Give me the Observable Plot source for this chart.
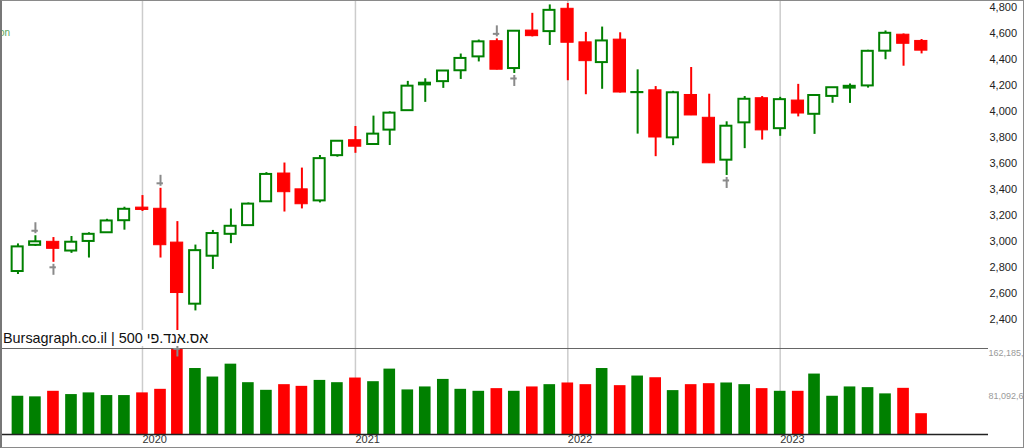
<!DOCTYPE html>
<html>
<head>
<meta charset="utf-8">
<script src="https://cdn.jsdelivr.net/npm/d3@7"></script>
<script src="https://cdn.jsdelivr.net/npm/@observablehq/plot@0.6"></script>
<style>
  html, body { margin: 0; padding: 0; background: #fff; }
  #wrap { position: relative; width: 1024px; height: 448px; overflow: hidden; background: #fff; font-family: "Liberation Sans", Arial, sans-serif; }
  #price, #volume { position: absolute; left: 0; }
  #price { top: 0; z-index: 2; }
  #volume { top: 348px; z-index: 1; }
  #label { position: absolute; left: 2px; top: 330px; height: 16px; line-height: 16px; font-size: 14.4px; background: #fff; color: #111; padding: 0 1px; z-index: 3; white-space: nowrap; }
  #legend { position: absolute; left: -1px; top: 27px; font-size: 10px; color: #5aa55a; z-index: 3; }
  #border { position: absolute; left: 0; top: 0; width: 1024px; height: 448px; box-sizing: border-box; border: 1px solid #8a8a8a; border-left: 2px solid #777; z-index: 4; pointer-events: none; }
</style>
</head>
<body>
<div id="wrap">
  <div id="price"></div>
  <div id="volume"></div>
  <div id="label">Bursagraph.co.il | 500 אס.אנד.פי</div>
  <div id="legend">on</div>
  <div id="border"></div>
</div>
<script>
// ---- data (monthly candles) ----
const months = [
  "2019-06","2019-07","2019-08","2019-09","2019-10","2019-11","2019-12",
  "2020-01","2020-02","2020-03","2020-04","2020-05","2020-06","2020-07","2020-08","2020-09","2020-10","2020-11","2020-12",
  "2021-01","2021-02","2021-03","2021-04","2021-05","2021-06","2021-07","2021-08","2021-09","2021-10","2021-11","2021-12",
  "2022-01","2022-02","2022-03","2022-04","2022-05","2022-06","2022-07","2022-08","2022-09","2022-10","2022-11","2022-12",
  "2023-01","2023-02","2023-03","2023-04","2023-05","2023-06","2023-07","2023-08","2023-09"
];
const open = [
  2751,2953,2980,2909,2983,3050,3143,
  3244,3235,2974,2499,2869,3038,3105,3289,3507,3385,3296,3645,
  3764,3731,3842,3992,4191,4216,4300,4407,4528,4317,4610,4602,
  4778,4519,4363,4540,4131,4149,3782,4113,3937,3610,3898,4088,
  3853,4070,3964,4102,4166,4183,4451,4578,4530
];
const high = [
  2964,3027,3013,3021,3050,3154,3247,
  3337,3393,3136,2955,3068,3233,3280,3514,3588,3549,3646,3760,
  3870,3950,3983,4218,4238,4302,4429,4537,4546,4608,4743,4808,
  4819,4596,4637,4593,4307,4178,4141,4325,4119,3906,4101,4101,
  4095,4195,4110,4170,4198,4458,4607,4584,4541
];
const low = [
  2728,2944,2822,2891,2855,3050,3070,
  3214,2855,2192,2447,2767,2966,3101,3284,3210,3234,3280,3633,
  3663,3725,3723,3992,4056,4164,4233,4368,4306,4279,4561,4495,
  4223,4115,4157,4128,3811,3637,3722,3954,3585,3492,3699,3765,
  3794,3944,3809,4049,4048,4166,4385,4335,4430
];
const close = [
  2941,2980,2926,2977,3038,3141,3231,
  3226,2954,2585,2912,3044,3100,3271,3500,3363,3270,3622,3756,
  3714,3811,3973,4181,4204,4298,4395,4523,4308,4605,4567,4766,
  4516,4374,4530,4132,4132,3785,4130,3955,3586,3872,4080,3840,
  4077,3970,4109,4169,4180,4450,4589,4508,4455
];
// volume, millions of shares
const volume = [
  72120,71000,81470,75300,78480,73430,73430,
  78480,85200,162185.2,124440,108370,132660,97720,83330,93990,90810,102020,97720,
  106500,99590,123320,84080,89690,103890,85200,81470,86510,81470,89690,93990,
  97160,93990,124440,92120,110240,107060,82770,93990,95850,97160,93990,86510,
  81470,81470,113980,72120,89690,88380,76610,87070,39240
];
// swing markers
const swingHighMonths = ["2019-07","2020-02","2021-09","2022-01"];
const swingLowMonths  = ["2019-08","2020-03","2021-10","2022-10"];
// axis ticks
const priceTicks = [2400,2600,2800,3000,3200,3400,3600,3800,4000,4200,4400,4600,4800];
const volumeTicks = [81092.6, 162185.2];
const yearLabels = ["2020","2021","2022","2023"];

// ---- build table ----
const parse = d3.utcParse("%Y-%m");
const data = months.map((m, i) => ({
  month: m, date: parse(m), open: open[i], high: high[i], low: low[i], close: close[i], volume: volume[i],
  up: close[i] >= open[i]
}));
const byMonth = new Map(data.map(d => [d.month, d]));
const swingHighs = swingHighMonths.map(m => byMonth.get(m));
const swingLows = swingLowMonths.map(m => byMonth.get(m));
const years = yearLabels.map(y => d3.utcParse("%Y")(y));

const GREEN = "#008000", RED = "#ff0000", MARK = "#8a8a8a";
const xScale = {type: "utc", domain: [new Date(Date.UTC(2019, 4, 2)), new Date(Date.UTC(2023, 11, 25))], axis: null};
const W = 1024, MR = 36;
const fontFamily = "'Liberation Sans', Arial, sans-serif";
const bar = (days) => ({x1: d => d3.utcDay.offset(d.date, -days), x2: d => d3.utcDay.offset(d.date, days)});

const price = Plot.plot({
  width: W, height: 348, marginLeft: 0, marginRight: MR, marginTop: 0, marginBottom: 0,
  x: xScale,
  y: {domain: [2157, 4842], axis: null},
  style: {overflow: "visible", background: "transparent", fontFamily},
  marks: [
    Plot.ruleX(years, {stroke: "#cccccc", strokeWidth: 1.5}),
    Plot.ruleX(data, {x: "date", y1: "low", y2: "high", stroke: d => d.up ? GREEN : RED, strokeWidth: 2}),
    Plot.rect(data.filter(d => !d.up), {
      ...bar(10.5), y1: "open", y2: "close", fill: RED, stroke: RED, strokeWidth: 1
    }),
    Plot.rect(data.filter(d => d.up), {
      ...bar(9.3), y1: "open", y2: "close", fill: "#fff", stroke: GREEN, strokeWidth: 2
    }),
    // swing high markers (above the high) and swing low markers (below the low)
    Plot.ruleX(swingHighs, {x: "date", y1: "high", y2: "high", insetTop: -11, dy: -2, stroke: MARK, strokeWidth: 2}),
    Plot.ruleY(swingHighs, {y: "high", ...bar(5.5), dy: -5, stroke: MARK, strokeWidth: 2}),
    Plot.ruleX(swingLows, {x: "date", y1: "low", y2: "low", insetBottom: -11, dy: 2, stroke: MARK, strokeWidth: 2}),
    Plot.ruleY(swingLows, {y: "low", ...bar(5.5), dy: 5, stroke: MARK, strokeWidth: 2}),
    Plot.text(priceTicks, {y: d => d, frameAnchor: "right", textAnchor: "start", dx: 1, dy: 2,
      text: d => d3.format(",")(d), fill: "#222", fontSize: 11})
  ]
});
document.getElementById("price").appendChild(price);

const vol = Plot.plot({
  width: W, height: 100, marginLeft: 0, marginRight: MR, marginTop: 0, marginBottom: 14,
  x: xScale,
  y: {domain: [0, 162185.2], axis: null},
  style: {overflow: "visible", background: "transparent", fontFamily},
  marks: [
    Plot.ruleX(years, {stroke: "#cccccc", strokeWidth: 1.5}),
    Plot.rect(data, {
      ...bar(10), y1: 0, y2: "volume", fill: d => d.up ? GREEN : RED
    }),
    Plot.ruleY([162185.2], {stroke: "#666", strokeWidth: 1}),
    Plot.ruleY([0], {stroke: "#222", strokeWidth: 1.5}),
    Plot.text(volumeTicks, {y: d => d, frameAnchor: "right", textAnchor: "start", dx: 0, dy: 5,
      text: d => d3.format(",")(Math.round(d * 1e6)), fill: "#9a9a9a", fontSize: 9}),
    Plot.text(years, {x: d => d, frameAnchor: "bottom", textAnchor: "start", dy: 8,
      text: d => d3.utcFormat("%Y")(d), fill: "#333", fontSize: 11})
  ]
});
document.getElementById("volume").appendChild(vol);
</script>
</body>
</html>
